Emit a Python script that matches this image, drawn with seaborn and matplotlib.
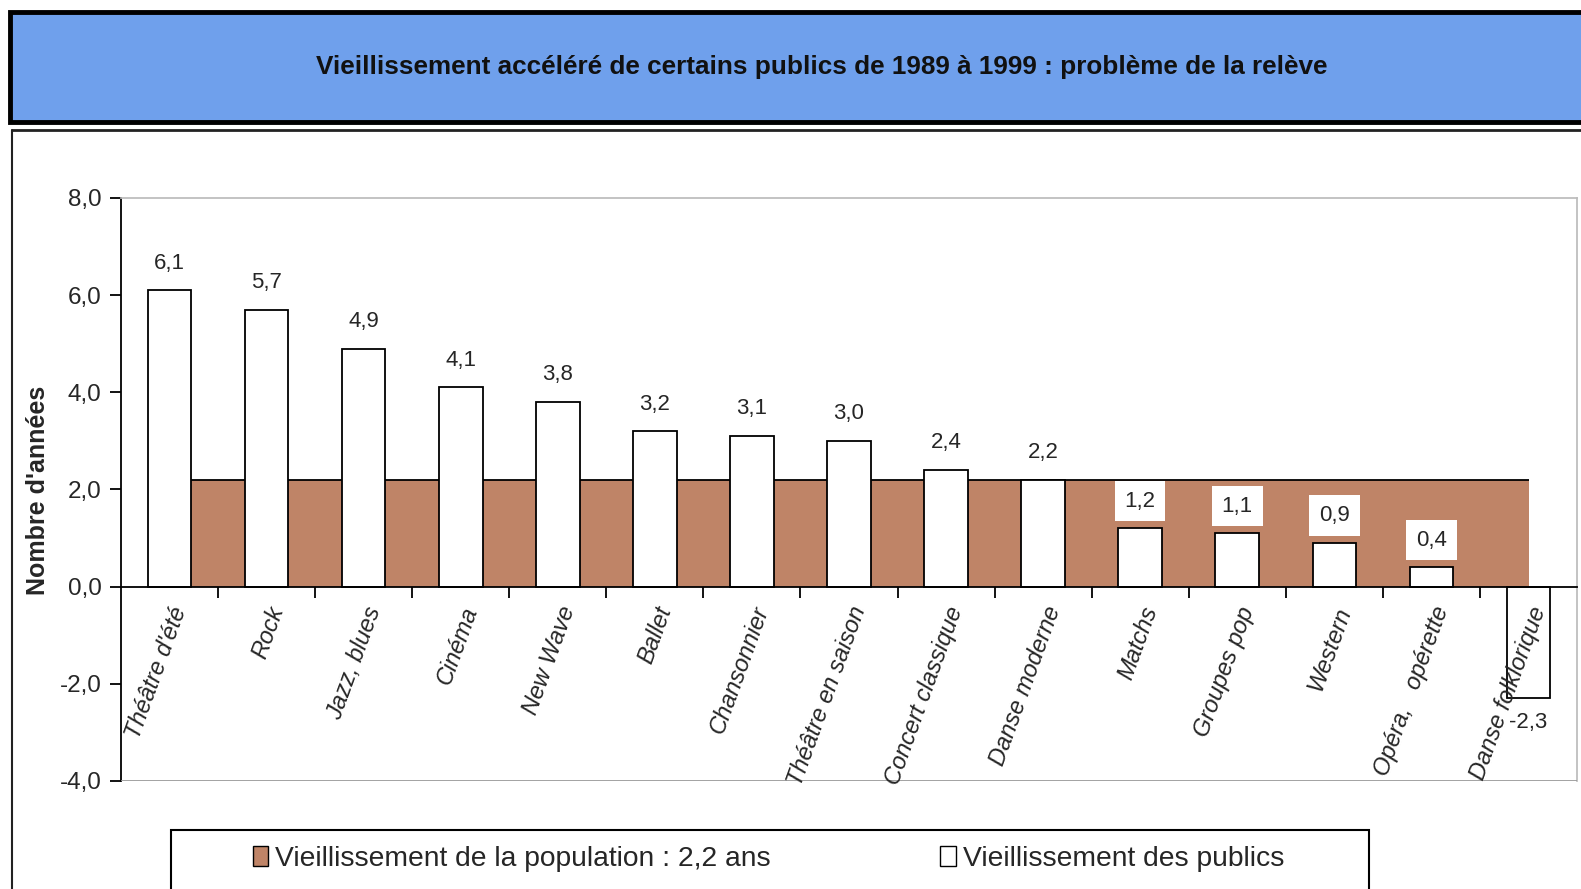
import numpy as np
import matplotlib
matplotlib.use("Agg")
import matplotlib.pyplot as plt
from matplotlib.patches import Rectangle, Patch
from matplotlib.lines import Line2D
import seaborn as sns

# data
categories = ["Théâtre d'été", "Rock", "Jazz, blues", "Cinéma", "New Wave", "Ballet",
              "Chansonnier", "Théâtre en saison", "Concert classique", "Danse moderne",
              "Matchs", "Groupes pop", "Western", "Opéra,   opérette", "Danse folklorique"]
publics = [6.1, 5.7, 4.9, 4.1, 3.8, 3.2, 3.1, 3.0, 2.4, 2.2, 1.2, 1.1, 0.9, 0.4, -2.3]
population = [2.2] * (len(categories) - 1)   # one brown block between each pair of bars
yticks = [-4, -2, 0, 2, 4, 6, 8]

title = "Vieillissement accéléré de certains publics de 1989 à 1999 : problème de la relève"
leg_pop = "Vieillissement de la population : 2,2 ans"
leg_pub = "Vieillissement des publics"

brown = "#BF8467"
blue = "#6FA0EC"

sns.set_theme(style="white")
plt.rcParams["font.family"] = ["Liberation Sans", "DejaVu Sans"]

fig = plt.figure(figsize=(15.81, 8.89), dpi=100)
fig.patch.set_facecolor("white")

# title banner
fig.patches.append(Rectangle((0.0063, 0.8628), 1.0, 0.1237, transform=fig.transFigure,
                             facecolor=blue, edgecolor="black", linewidth=3.5, zorder=0))
fig.text(0.52, 0.925, title, ha="center", va="center", fontsize=18.8, fontweight="bold",
         color="#111111")

# panel border
fig.add_artist(Line2D([0.0076, 1.0], [0.854, 0.854], transform=fig.transFigure, color="#222222", lw=2))
fig.add_artist(Line2D([0.0076, 0.0076], [0.0, 0.854], transform=fig.transFigure, color="#222222", lw=1.5))

ax = fig.add_axes([0.0765, 0.1215, 0.921, 0.6558])
x = np.arange(len(categories))
xb = np.arange(len(population)) + 0.5

# brown population blocks, behind the white bars
ax.bar(xb, population, width=1.0, color=brown, linewidth=0, zorder=1)
ax.hlines(population, xb - 0.5, xb + 0.5, color="black", lw=1.3, zorder=1.5)

sns.barplot(x=x, y=publics, color="white", saturation=1, edgecolor="black", linewidth=1.3,
            width=0.45, native_scale=True, ax=ax)
for p in ax.patches:
    if p.get_facecolor()[:3] == (1.0, 1.0, 1.0):
        p.set_zorder(2)

for xi, v in zip(x, publics):
    txt = f"{v:.1f}".replace(".", ",")
    if v < 0:
        ax.annotate(txt, (xi, v), xytext=(0, -10), textcoords="offset points",
                    ha="center", va="top", fontsize=16, zorder=4)
    elif v < max(population):
        ax.annotate(txt, (xi, v), xytext=(0, 12), textcoords="offset points",
                    ha="center", va="bottom", fontsize=16, zorder=4,
                    bbox=dict(facecolor="white", edgecolor="none", pad=7))
    else:
        ax.annotate(txt, (xi, v), xytext=(0, 12), textcoords="offset points",
                    ha="center", va="bottom", fontsize=16, zorder=4)

ax.set_xlim(-0.5, len(categories) - 0.5)
ax.set_ylim(-4, 8)
ax.set_yticks(yticks)
ax.set_yticklabels([f"{t:.1f}".replace(".", ",") for t in yticks], fontsize=17.5)
ax.tick_params(axis="y", direction="out", length=8, width=1.3, color="black", pad=6, left=True)

ax.spines["bottom"].set_position(("data", 0))
ax.spines["bottom"].set_color("black")
ax.spines["bottom"].set_linewidth(1.3)
ax.spines["bottom"].set_zorder(3)
ax.spines["left"].set_color("black")
ax.spines["left"].set_linewidth(1.3)
ax.spines["top"].set_color("#BBBBBB")
ax.spines["right"].set_color("#BBBBBB")
ax.axhline(-4, color="#999999", lw=2, zorder=3)

ax.set_xticks(x)
ax.set_xticks(xb, minor=True)
ax.set_xticklabels(categories, rotation=70, ha="right", rotation_mode="anchor",
                   fontsize=17, fontstyle="italic")
ax.tick_params(axis="x", which="major", length=0, pad=12)
ax.tick_params(axis="x", which="minor", direction="out", length=8, width=1.3, color="black", bottom=True)
ax.xaxis.set_zorder(5)
ax.set_xlabel("")

fig.text(0.024, 0.448, "Nombre d'années", rotation=90, ha="center", va="center",
         fontsize=18, fontweight="bold")

# legend box
fig.patches.append(Rectangle((0.108, -0.05), 0.758, 0.1164, transform=fig.transFigure,
                             facecolor="white", edgecolor="black", linewidth=1.5, zorder=0))
handles = [Patch(facecolor=brown, edgecolor="black"), Patch(facecolor="white", edgecolor="black")]
fig.legend(handles, [leg_pop, leg_pub], loc="center", bbox_to_anchor=(0.486, 0.034), ncol=2,
           frameon=False, fontsize=20.3, handlelength=0.55, handleheight=0.75, handletextpad=0.25,
           columnspacing=6.0)

fig.savefig("out.png", dpi=100)
